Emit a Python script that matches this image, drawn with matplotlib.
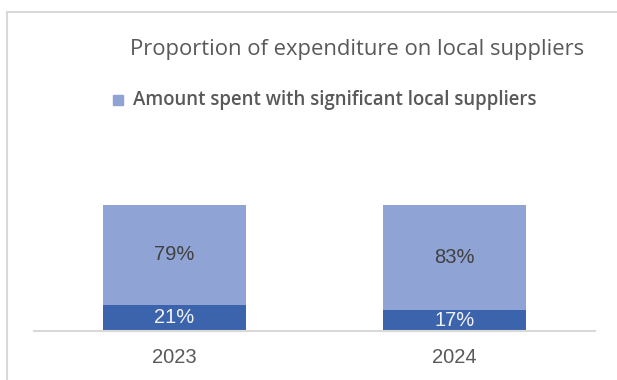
import matplotlib.pyplot as plt
from matplotlib.patches import Rectangle

# Share of spend per year
years = ['2023', '2024']
local_share = [79, 83]
other_share = [21, 17]
local_color = '#8FA3D4'
other_color = '#3C64AD'

W, H = 617, 380
fig = plt.figure(figsize=(W / 100, H / 100), dpi=100)

# Outer frame of the chart area
fig.patches.append(Rectangle((6.5 / W, -0.1), 1.2, (H - 11.5) / H + 0.1,
                             transform=fig.transFigure, fill=False,
                             edgecolor='#D9D9D9', linewidth=1.5))

ax = fig.add_axes([34 / W, (H - 331) / H, (595 - 34) / W, (331 - 205) / H])
x = range(len(years))
ax.bar(x, other_share, width=0.51, color=other_color)
ax.bar(x, local_share, width=0.51, bottom=other_share, color=local_color)

for i in x:
    ax.text(i, other_share[i] / 2, f'{other_share[i]}%', ha='center', va='center',
            color='#F2F2F2', fontsize=14.5, family='Liberation Sans')
    ax.text(i, other_share[i] + local_share[i] / 2, f'{local_share[i]}%',
            ha='center', va='center', color='#404040', fontsize=14.5,
            family='Liberation Sans')

ax.set_xlim(-0.5, 1.5)
ax.set_ylim(0, 100)
ax.set_xticks(list(x))
ax.set_xticklabels(years, fontsize=14.5, color='#595959', family='Liberation Sans')
ax.tick_params(axis='x', length=0, pad=12)
ax.set_yticks([])
for side in ['left', 'right', 'top']:
    ax.spines[side].set_visible(False)
ax.spines['bottom'].set_color('#D9D9D9')
ax.spines['bottom'].set_linewidth(1.5)

fig.text(357 / W, 1 - 49 / H, 'Proportion of expenditure on local suppliers',
         ha='center', va='center', fontsize=15.8, color='#595959', family='Open Sans')

# Legend entry
fig.patches.append(Rectangle((113 / W, 1 - 105 / H), 10 / W, 10 / H,
                             transform=fig.transFigure, color=local_color))
fig.text(133 / W, 1 - 100 / H, 'Amount spent with significant local suppliers',
         ha='left', va='center', fontsize=13.4, color='#595959',
         family='Open Sans', fontweight='semibold')

fig.savefig('out.png', dpi=100)
